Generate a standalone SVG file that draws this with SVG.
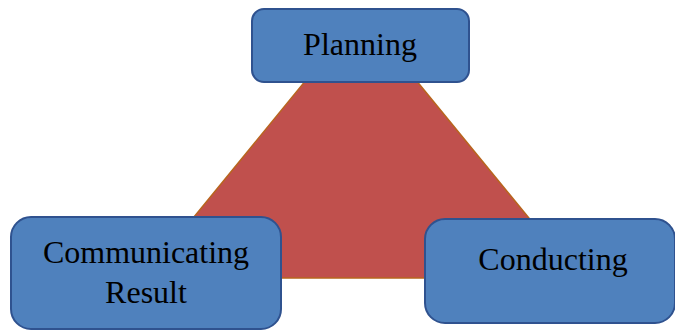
<svg xmlns="http://www.w3.org/2000/svg" width="675" height="331" viewBox="0 0 675 331">
<style>
.box{fill:#4F81BD;stroke:#2F528F;stroke-width:2}
.lbl{font-family:"Liberation Serif",serif;font-size:32px;fill:#000;text-anchor:middle}
</style>
<rect width="675" height="331" fill="#fff"/>
<g id="triangle">
<polygon points="361,13 144,278 578,278" fill="#C0504D" stroke="#B8651E" stroke-width="1.5"/>
</g>
<g id="connectors"></g>
<g id="planning">
<rect class="box" x="252" y="9" width="217" height="73" rx="12"/>
<text class="lbl" x="360" y="55">Planning</text>
</g>
<g id="communicating">
<rect class="box" x="11" y="217" width="270" height="112" rx="20"/>
<text class="lbl" x="146" y="263">Communicating</text>
<text class="lbl" x="146" y="303">Result</text>
</g>
<g id="conducting">
<rect class="box" x="425" y="219" width="250" height="104" rx="20"/>
<text class="lbl" x="553" y="270">Conducting</text>
</g>
</svg>
